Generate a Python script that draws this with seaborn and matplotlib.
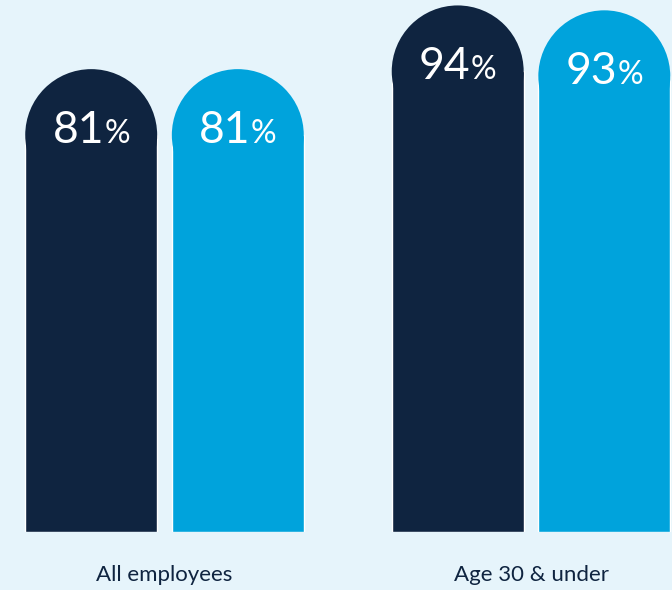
import matplotlib
matplotlib.use("Agg")
import matplotlib.pyplot as plt
import seaborn as sns
import pandas as pd
from matplotlib.patches import Ellipse
from matplotlib.offsetbox import TextArea, HPacker, AnnotationBbox

categories = ["All employees", "Age 30 & under"]
series_names = ["Group A", "Group B"]
values_a = [81, 94]
values_b = [81, 93]

BG = "#E6F4FB"
DARK = "#0F2440"
LIGHT = "#00A3DC"
FONT = ["Lato", "DejaVu Sans"]

df = pd.DataFrame({
    "category": categories * 2,
    "series": [series_names[0]] * 2 + [series_names[1]] * 2,
    "value": values_a + values_b,
})

sns.set_theme(style="white")
plt.rcParams["font.family"] = FONT

W, H = 672, 590
fig = plt.figure(figsize=(W / 100, H / 100), dpi=100, facecolor=BG)
base_px = 58
ax = fig.add_axes([0, base_px / H, 1, (H - base_px) / H])
ax.set_facecolor(BG)

sns.barplot(data=df, x="category", y="value", hue="series",
            palette=[DARK, LIGHT], width=0.8, gap=0.1, saturation=1,
            ax=ax, legend=False)

px_per_unit = 4.9
ax.set_ylim(0, (H - base_px) / px_per_unit)
xpx = 366.5
ax.set_xlim(-164.5 / xpx, (W - 164.5) / xpx)

for s in ax.spines.values():
    s.set_visible(False)
ax.set_yticks([])
ax.set_xlabel("")
ax.set_ylabel("")
ax.tick_params(axis="x", length=0, pad=24, labelsize=16, labelcolor=DARK)
ax.grid(False)

# rounded caps and labels
for p in list(ax.patches):
    x0 = p.get_x()
    w = p.get_width()
    h = p.get_height()
    if h <= 0:
        continue
    bar_px = w * xpx
    cap_h = bar_px / px_per_unit
    cx = x0 + w / 2
    e = Ellipse((cx, h), w, cap_h, facecolor=p.get_facecolor(),
                edgecolor="none", zorder=p.get_zorder())
    ax.add_patch(e)
    num = TextArea(f"{int(round(h))}", textprops=dict(color="white", fontsize=32,
                                                     family=FONT))
    pct = TextArea("%", textprops=dict(color="white", fontsize=23, family=FONT))
    box = HPacker(children=[num, pct], align="baseline", pad=0, sep=0)
    ab = AnnotationBbox(box, (cx, h + 1.0), frameon=False, box_alignment=(0.5, 0.5),
                        zorder=5)
    ax.add_artist(ab)

fig.savefig("out.png", dpi=100, facecolor=BG)
